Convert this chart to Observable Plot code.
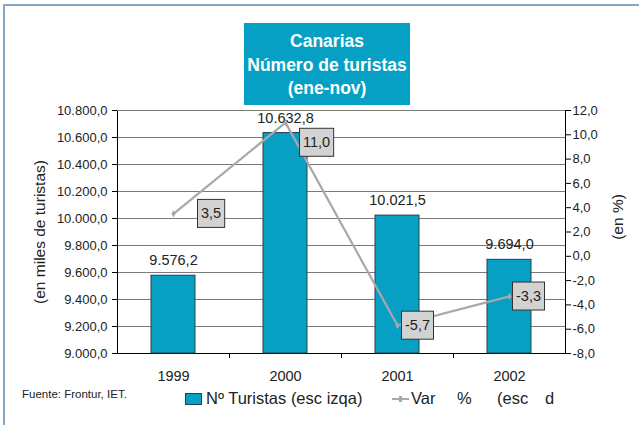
<!DOCTYPE html>
<html><head><meta charset="utf-8">
<script src="https://cdn.jsdelivr.net/npm/d3@7"></script>
<script src="https://cdn.jsdelivr.net/npm/@observablehq/plot@0.6"></script>
<style>
html,body{margin:0;padding:0;background:#fff;}
#wrap{position:relative;width:639px;height:425px;overflow:hidden;font-family:"Liberation Sans",Arial,Helvetica,sans-serif;color:#222;}
.abs{position:absolute;white-space:nowrap;}
</style></head>
<body><div id="wrap"></div>
<script>
const years = ["1999", "2000", "2001", "2002"];
const turistas = [9576.2, 10632.8, 10021.5, 9694.0];
const variacion = [3.5, 11.0, -5.7, -3.3];
const leftTicks = [9000, 9200, 9400, 9600, 9800, 10000, 10200, 10400, 10600, 10800];
const rightTicks = [-8, -6, -4, -2, 0, 2, 4, 6, 8, 10, 12];

const loc = d3.formatLocale({decimal: ",", thousands: ".", grouping: [3], currency: ["", "€"], minus: "-"});
const f1 = loc.format(",.1f");
const toP = v => 9000 + (v + 8) * 90;      // right scale -> left scale
const fromP = p => (p - 9000) / 90 - 8;

const data = years.map((y, i) => ({year: y, n: turistas[i], v: variacion[i], vp: toP(variacion[i])}));
const BAR = "#079fc3";
const GRAY = "#a8a8a8";

const chart = Plot.plot({
  width: 639, height: 425,
  marginTop: 110, marginBottom: 72, marginLeft: 117, marginRight: 74,
  style: {fontFamily: "'Liberation Sans', Arial, sans-serif", background: "transparent", overflow: "visible"},
  x: {domain: years, paddingInner: 0.607, paddingOuter: 0.3035, axis: null, label: null},
  y: {domain: [9000, 10800], axis: null, label: null},
  marks: [
    Plot.gridY(leftTicks, {stroke: "#7a7a7a", strokeOpacity: 1}),
    Plot.frame({stroke: "#000"}),
    Plot.ruleY([10800], {stroke: "#7a7a7a"}),
    Plot.axisY(leftTicks, {anchor: "left", label: null, tickFormat: f1, tickSize: 5, tickPadding: 5, fontSize: 13, stroke: "#000", fill: "#222"}),
    Plot.axisY(rightTicks.map(toP), {anchor: "right", label: null, tickFormat: d => f1(Math.round(fromP(d) * 10) / 10), tickSize: 5, tickPadding: 2, fontSize: 13, stroke: "#000", fill: "#222"}),
    Plot.axisX(years, {anchor: "bottom", label: null, tickSize: 0, tickPadding: 17, fontSize: 14.5, fill: "#222"}),
    Plot.ruleX(years.slice(1), {x: d => d, dx: -56, y1: 9000, y2: 9000 - 5 * 1800 / 243, stroke: "#000"}),
    Plot.barY(data, {x: "year", y1: 9000, y2: "n", fill: BAR, stroke: "#24404c", strokeWidth: 1}),
    Plot.text(data, {x: "year", y: "n", text: d => f1(d.n), dy: -15, fontSize: 14.5, fill: "#222"}),
    Plot.line(data, {x: "year", y: "vp", stroke: GRAY, strokeWidth: 2.2}),
    Plot.dot(data, {x: "year", y: "vp", r: 2.2, fill: GRAY, symbol: "diamond"}),
    Plot.text(data.filter(d => d.year === "1999"), {x: "year", y: "vp", text: d => f1(d.v), textAnchor: "start", dx: 27.5, fontSize: 14.5, fill: "#222", className: "varlabel"}),
    Plot.text(data.filter(d => d.year === "2000"), {x: "year", y: "vp", text: d => f1(d.v), textAnchor: "start", dx: 17.5, dy: 20, fontSize: 14.5, fill: "#222", className: "varlabel"}),
    Plot.text(data.filter(d => d.year === "2001"), {x: "year", y: "vp", text: d => f1(d.v), textAnchor: "start", dx: 7.5, fontSize: 14.5, fill: "#222", className: "varlabel"}),
    Plot.text(data.filter(d => d.year === "2002"), {x: "year", y: "vp", text: d => f1(d.v), textAnchor: "start", dx: 6.5, fontSize: 14.5, fill: "#222", className: "varlabel"})
  ]
});

const wrap = document.getElementById("wrap");
chart.style.position = "absolute";
chart.style.left = "0px";
chart.style.top = "0px";
wrap.appendChild(chart);

// grey boxes behind the variation labels
chart.querySelectorAll("g.varlabel text").forEach(t => {
  const b = t.getBBox();
  const cy = b.y + b.height / 2;
  const r = document.createElementNS("http://www.w3.org/2000/svg", "rect");
  r.setAttribute("x", b.x - 3.5);
  r.setAttribute("y", cy - 14);
  r.setAttribute("width", b.width + 7);
  r.setAttribute("height", 28);
  r.setAttribute("fill", "#d2d2d2");
  r.setAttribute("stroke", "#333");
  r.setAttribute("stroke-width", "1");
  if (t.getAttribute("transform")) r.setAttribute("transform", t.getAttribute("transform"));
  t.parentNode.insertBefore(r, t);
});

function add(html, css) {
  const d = document.createElement("div");
  d.className = "abs";
  d.innerHTML = html;
  Object.assign(d.style, css);
  wrap.appendChild(d);
  return d;
}
// outer frame lines
add("", {left: "3px", top: "4px", width: "640px", height: "2px", background: "#86a6c6"});
add("", {left: "3px", top: "4px", width: "2px", height: "430px", background: "#86a6c6"});

// title box
add("Canarias<br>Número de turistas<br>(ene-nov)", {left: "244px", top: "23px", width: "166px", height: "82px", background: "#05a0c4", color: "#fff", fontWeight: "bold", fontSize: "17.5px", lineHeight: "23.5px", textAlign: "center", paddingTop: "7px", boxSizing: "border-box"});

// axis titles
add("(en miles de turistas)", {left: "40px", top: "232px", fontSize: "15.5px", transform: "translate(-50%,-50%) rotate(-90deg)"});
add("(en %)", {left: "618px", top: "217px", fontSize: "15.5px", transform: "translate(-50%,-50%) rotate(-90deg)"});

// source + legend
add("Fuente: Frontur, IET.", {left: "22px", top: "388px", fontSize: "11.5px"});
add("", {left: "185px", top: "393px", width: "17px", height: "12px", background: BAR, border: "1px solid #24404c", boxSizing: "border-box"});
add("Nº Turistas (esc izqa)", {left: "206px", top: "389px", fontSize: "16.5px"});
add("", {left: "392px", top: "398px", width: "17px", height: "2px", background: GRAY});
add("", {left: "399px", top: "396px", width: "3px", height: "6px", background: GRAY});
add("Var", {left: "411px", top: "389px", fontSize: "16.5px"});
add("%", {left: "457px", top: "389px", fontSize: "16.5px"});
add("(esc", {left: "497px", top: "389px", fontSize: "16.5px"});
add("d", {left: "545px", top: "389px", fontSize: "16.5px"});
</script>
</body></html>
